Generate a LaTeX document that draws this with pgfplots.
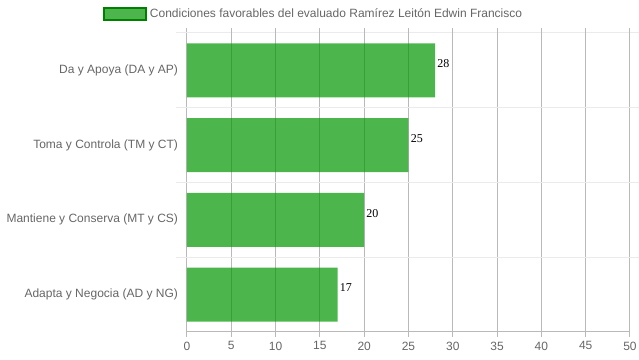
\documentclass[border=0pt]{standalone}
\usepackage{fontspec}
\setmainfont{Liberation Sans}
\newfontfamily\seriffont{Liberation Serif}
\usepackage{pgfplots}
\pgfplotsset{compat=1.18}
\definecolor{bargreen}{RGB}{0,150,0}
\definecolor{legborder}{RGB}{0,128,0}
\definecolor{txt}{RGB}{102,102,102}
\definecolor{vgrid}{RGB}{185,185,185}
\definecolor{hgrid}{RGB}{235,235,235}
\begin{document}
\begin{tikzpicture}
\useasboundingbox (-140.25pt,-21pt) rectangle (339pt,249pt);
\begin{axis}[
  at={(0,0)}, anchor=south west,
  scale only axis, width=332.25pt, height=224.25pt,
  xmin=0, xmax=50, ymin=-0.5, ymax=3.5,
  xtick={0,5,...,50},
  ytick={0,1,2,3},
  yticklabels={Adapta y Negocia (AD y NG),Mantiene y Conserva (MT y CS),Toma y Controla (TM y CT),Da y Apoya (DA y AP)},
  minor ytick={0.5,1.5,2.5,3.5},
  xmajorgrids, yminorgrids,
  major x grid style={vgrid, line width=0.75pt},
  minor y grid style={hgrid, line width=0.75pt},
  axis line style={draw=none},
  tick align=outside,
  x tick style={vgrid, line width=0.75pt},
  major tick length=3.75pt,
  minor tick length=8.25pt,
  minor y tick style={hgrid, line width=0.75pt},
  every major y tick/.append style={draw=none},
  /pgf/number format/assume math mode=true,
  ticklabel style={text=txt, font=\fontsize{9}{10}\selectfont},
  yticklabel style={xshift=0.5pt},
  legend style={draw=none, fill=none, inner sep=0pt, at={(-0.1896,1.0635)}, anchor=west, font=\fontsize{9}{10}\selectfont, text=txt},
  legend cell align=left,
  legend image code/.code={\draw[fill=bargreen, fill opacity=0.7, draw=legborder, line width=1.5pt] (0pt,-4.5pt) rectangle (31.5pt,4.5pt);},
]
\addplot[xbar, fill=bargreen, fill opacity=0.7, draw=none, bar width=0.72,
  nodes near coords,
  nodes near coords style={anchor=west, fill opacity=1, text opacity=1, text=black, inner sep=1.5pt, yshift=5pt, font=\seriffont\fontsize{9}{10}\selectfont}]
  coordinates {(17,0) (20,1) (25,2) (28,3)};
\addlegendentry{Condiciones favorables del evaluado Ramírez Leitón Edwin Francisco}
\draw[vgrid, line width=0.75pt] ([xshift=-8.25pt]axis cs:0,-0.5) -- (axis cs:50,-0.5);
\end{axis}
\end{tikzpicture}
\end{document}
